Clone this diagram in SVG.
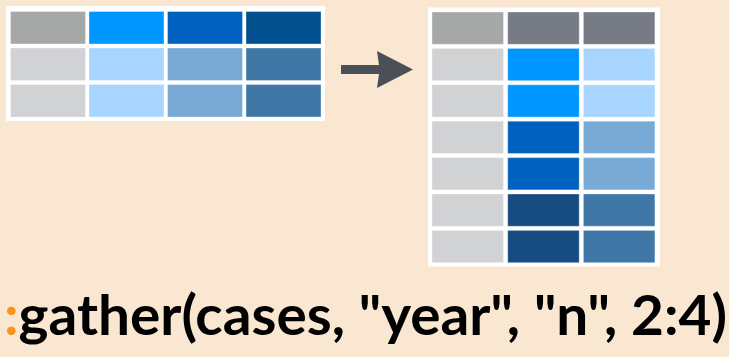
<svg xmlns="http://www.w3.org/2000/svg" width="729" height="357" viewBox="0 0 729 357">
<style>
.bg{fill:#fae7d2}
.panel{fill:#ffffff}
.c{stroke:#ffffff;stroke-opacity:0.35;stroke-width:1}
.g1{fill:#a5a8a6}.g2{fill:#d1d2d4}.g3{fill:#777b85}
.b1{fill:#0096ff}.b2{fill:#0062be}.b3{fill:#02508e}
.l1{fill:#a8d5ff}.l2{fill:#78aad5}.l3{fill:#3f78a6}.d1{fill:#174c80}
.code{font-family:"Lato","Liberation Sans",sans-serif;font-weight:bold;font-size:56px;fill:#000}
</style>
<rect class="bg" x="0" y="0" width="729" height="357"/>
<g id="table-wide">
<rect class="panel" x="6" y="6" width="319" height="115"/>
<rect class="c g1" x="10.5" y="11.5" width="75" height="32.5"/>
<rect class="c b1" x="89" y="11.5" width="75" height="32.5"/>
<rect class="c b2" x="167.5" y="11.5" width="75" height="32.5"/>
<rect class="c b3" x="246" y="11.5" width="75" height="32.5"/>
<rect class="c g2" x="10.5" y="48" width="75" height="32.5"/>
<rect class="c l1" x="89" y="48" width="75" height="32.5"/>
<rect class="c l2" x="167.5" y="48" width="75" height="32.5"/>
<rect class="c l3" x="246" y="48" width="75" height="32.5"/>
<rect class="c g2" x="10.5" y="84.5" width="75" height="32.5"/>
<rect class="c l1" x="89" y="84.5" width="75" height="32.5"/>
<rect class="c l2" x="167.5" y="84.5" width="75" height="32.5"/>
<rect class="c l3" x="246" y="84.5" width="75" height="32.5"/>
</g>
<g id="table-long">
<rect class="panel" x="428" y="7.5" width="232" height="259"/>
<rect class="c g1" x="432" y="12" width="71.5" height="32.3"/>
<rect class="c g3" x="507.7" y="12" width="71.5" height="32.3"/>
<rect class="c g3" x="583.4" y="12" width="71.5" height="32.3"/>
<rect class="c g2" x="432" y="48.4" width="71.5" height="32.3"/>
<rect class="c b1" x="507.7" y="48.4" width="71.5" height="32.3"/>
<rect class="c l1" x="583.4" y="48.4" width="71.5" height="32.3"/>
<rect class="c g2" x="432" y="84.8" width="71.5" height="32.3"/>
<rect class="c b1" x="507.7" y="84.8" width="71.5" height="32.3"/>
<rect class="c l1" x="583.4" y="84.8" width="71.5" height="32.3"/>
<rect class="c g2" x="432" y="121.2" width="71.5" height="32.3"/>
<rect class="c b2" x="507.7" y="121.2" width="71.5" height="32.3"/>
<rect class="c l2" x="583.4" y="121.2" width="71.5" height="32.3"/>
<rect class="c g2" x="432" y="157.6" width="71.5" height="32.3"/>
<rect class="c b2" x="507.7" y="157.6" width="71.5" height="32.3"/>
<rect class="c l2" x="583.4" y="157.6" width="71.5" height="32.3"/>
<rect class="c g2" x="432" y="194" width="71.5" height="32.3"/>
<rect class="c d1" x="507.7" y="194" width="71.5" height="32.3"/>
<rect class="c l3" x="583.4" y="194" width="71.5" height="32.3"/>
<rect class="c g2" x="432" y="230.4" width="71.5" height="32.3"/>
<rect class="c d1" x="507.7" y="230.4" width="71.5" height="32.3"/>
<rect class="c l3" x="583.4" y="230.4" width="71.5" height="32.3"/>
</g>
<g id="connectors">
<polygon fill="#4a4f58" points="341,65 379,65 377,51 413,69.5 377,88 379,74 341,74"/>
</g>
<g id="label">
<text class="code" x="4" y="335" textLength="723" lengthAdjust="spacingAndGlyphs"><tspan fill="#f7941d">:</tspan>gather(cases, "year", "n", 2:4)</text>
</g>
</svg>
